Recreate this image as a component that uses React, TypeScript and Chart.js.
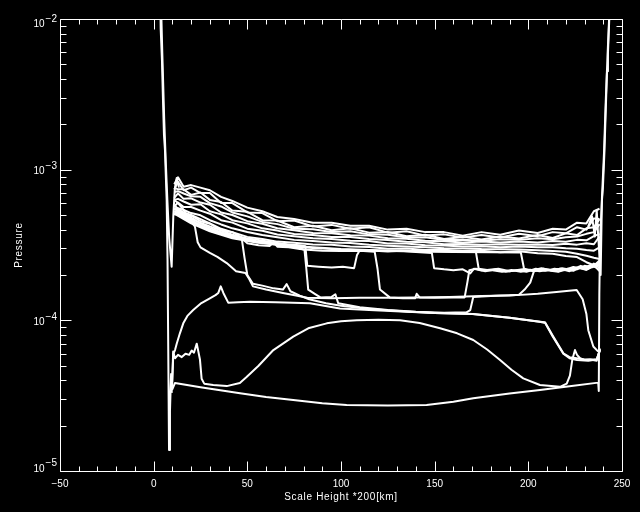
import React, { useEffect, useRef } from "react";
import { Chart, registerables } from "chart.js";

Chart.register(...registerables);

// ---------- axis definitions ----------
const X_MIN = -50;
const X_MAX = 250;
const X_MINOR_STEP = 10;
const X_MAJOR_STEP = 50;
const X_LABELS = [-50, 0, 50, 100, 150, 200, 250];
const Y_MIN = 1e-5;
const Y_MAX = 1e-2;
const Y_DECADES = [-5, -4, -3, -2];
const X_TITLE = "Scale Height *200[km]";
const Y_TITLE = "Pressure";

// ---------- data ----------
// wall + initial (bottom) profile
const profileA: [number, number][] = [
  [3.6, 1.3e-2], [3.74, 8.7e-3], [4.43, 5.3e-3], [4.97, 2.9e-3], [5.5, 1.7e-3], [6.03, 1.35e-3],
  [6.57, 8.5e-4], [6.94, 6.3e-4], [7.4, 2.5e-4], [7.8, 6e-5], [8.2, 1.38e-5], [8.7, 2.5e-5],
  [9.3, 4.4e-5], [10, 3.5e-5], [11.4, 3.84e-5], [25, 3.6e-5], [46.1, 3.28e-5], [60, 3.1e-5],
  [74.5, 2.96e-5], [90, 2.82e-5], [103, 2.74e-5], [125, 2.72e-5], [145.7, 2.74e-5], [160, 2.88e-5],
  [170.6, 3.04e-5], [190, 3.27e-5], [206.2, 3.45e-5], [222, 3.65e-5], [237.3, 3.86e-5], [237.6, 3.4e-5],
  [237.9, 1.5e-4], [238.3, 3.5e-4], [239.3, 6.3e-4], [239.8, 7.55e-4], [240.6, 1.29e-3], [241.5, 2.9e-3],
  [242, 4.5e-3], [242.5, 5.9e-3], [243.2, 1.0e-2], [243.4, 1.3e-2],
];

const profileBell: [number, number][] = [
  [9.8, 3.5e-5], [10.4, 6.2e-5], [11.4, 5.6e-5], [13, 5.9e-5], [15, 5.7e-5], [17, 6.0e-5], [19, 5.9e-5],
  [20.3, 6.3e-5], [21.5, 6.1e-5], [23, 7.0e-5], [24.7, 5.5e-5], [25.6, 4.1e-5], [27, 3.8e-5],
  [31.8, 3.72e-5], [39, 3.66e-5], [46, 3.84e-5], [49.6, 4.2e-5], [56, 5.0e-5], [63.9, 6.35e-5],
  [74.5, 7.8e-5], [83, 8.9e-5], [92.4, 9.55e-5], [100, 9.85e-5], [108.4, 1.0e-4], [120, 1.01e-4],
  [131.5, 1.0e-4], [142, 9.6e-5], [152.9, 8.85e-5], [162, 8.2e-5], [170.6, 7.4e-5], [178, 6.4e-5],
  [184.9, 5.46e-5], [191, 4.7e-5], [197.3, 4.12e-5], [206.2, 3.72e-5], [216.9, 3.62e-5], [220.5, 3.8e-5],
  [222.2, 4.3e-5], [223.5, 5.5e-5], [224.9, 6.35e-5], [226, 5.9e-5], [227.6, 5.6e-5], [230, 5.45e-5],
  [233, 5.5e-5], [236.5, 5.4e-5], [238.3, 6.5e-5],
];

const profileHump: [number, number][] = [
  [9.6, 3.3e-5], [10.5, 6.0e-5], [11.4, 6.35e-5], [12.3, 7.0e-5], [14, 8.2e-5], [15.8, 9.55e-5],
  [18, 1.07e-4], [21.1, 1.17e-4], [25, 1.29e-4], [30, 1.4e-4], [33, 1.47e-4], [34.5, 1.52e-4],
  [35.8, 1.68e-4], [37.2, 1.52e-4], [39.8, 1.31e-4], [45, 1.32e-4], [51.4, 1.33e-4], [65, 1.32e-4],
  [83.4, 1.3e-4], [99.4, 1.2e-4], [115, 1.17e-4], [135, 1.14e-4], [150, 1.12e-4], [170.6, 1.1e-4],
  [190, 1.04e-4], [206.2, 9.8e-5], [208.9, 9.7e-5], [213.3, 7.8e-5], [218.7, 6.04e-5], [222, 5.7e-5],
  [225.8, 5.6e-5], [230, 5.5e-5], [236.5, 5.5e-5], [238.3, 6.35e-5],
];

const leftSpike: [number, number][] = [
  [3.9, 1.3e-2], [4.6, 6e-3], [5.6, 2.2e-3], [6.5, 1.1e-3], [7.3, 6.3e-4], [8.3, 3.5e-4],
  [9.6, 2.27e-4], [10.5, 5e-4], [11.3, 7.5e-4], [12.3, 8.8e-4], [13.5, 7.6e-4],
];

const rightSpike: [number, number][] = [
  [232, 4.2e-4], [234, 4.9e-4], [235.5, 3.6e-4], [236.5, 5.4e-4], [237.5, 3.3e-4], [238.6, 2.0e-4],
  [239.3, 6.5e-4], [240.4, 1.3e-3], [241.3, 2.8e-3], [242.3, 5.8e-3], [243.5, 1.3e-2],
];

// the dense band of profiles
const bundleX = [11, 13, 16, 20, 25, 30, 36, 42, 50, 58, 66, 75, 85, 95, 105, 115, 125, 135, 145, 155, 165, 175, 185, 195, 205, 213, 220, 226, 231, 235, 238];
const band1 = [8.0e-4, 8.9e-4, 7.7e-4, 7.9e-4, 7.6e-4, 7.3e-4, 6.6e-4, 6.2e-4, 5.6e-4, 5.3e-4, 4.85e-4, 4.7e-4, 4.45e-4, 4.45e-4, 4.25e-4, 4.25e-4, 4.0e-4, 4.05e-4, 3.85e-4, 3.85e-4, 3.65e-4, 3.85e-4, 3.7e-4, 3.95e-4, 3.8e-4, 4.05e-4, 4.0e-4, 4.45e-4, 4.4e-4, 5.3e-4, 5.5e-4];
const band2 = [7.4e-4, 8.3e-4, 7.3e-4, 7.6e-4, 7.0e-4, 7.0e-4, 6.0e-4, 6.0e-4, 5.2e-4, 5.15e-4, 4.55e-4, 4.6e-4, 4.2e-4, 4.3e-4, 4.05e-4, 4.15e-4, 3.82e-4, 3.9e-4, 3.65e-4, 3.72e-4, 3.55e-4, 3.68e-4, 3.55e-4, 3.76e-4, 3.62e-4, 3.85e-4, 3.78e-4, 4.15e-4, 4.0e-4, 4.75e-4, 4.7e-4];
const band3 = [7.6e-4, 7.4e-4, 7.4e-4, 6.8e-4, 7.05e-4, 6.3e-4, 6.1e-4, 5.35e-4, 5.25e-4, 4.62e-4, 4.6e-4, 4.15e-4, 4.24e-4, 3.96e-4, 4.08e-4, 3.82e-4, 3.86e-4, 3.62e-4, 3.7e-4, 3.47e-4, 3.58e-4, 3.44e-4, 3.6e-4, 3.49e-4, 3.68e-4, 3.52e-4, 3.78e-4, 3.68e-4, 4.08e-4, 4.15e-4, 4.7e-4];
const band4 = [7.1e-4, 7.2e-4, 6.95e-4, 6.65e-4, 6.6e-4, 6.0e-4, 5.7e-4, 5.2e-4, 4.9e-4, 4.5e-4, 4.35e-4, 4.05e-4, 4.02e-4, 3.86e-4, 3.9e-4, 3.72e-4, 3.7e-4, 3.55e-4, 3.56e-4, 3.41e-4, 3.43e-4, 3.38e-4, 3.45e-4, 3.42e-4, 3.5e-4, 3.45e-4, 3.56e-4, 3.6e-4, 3.75e-4, 3.85e-4, 4.35e-4];
const band5 = [6.5e-4, 6.95e-4, 6.4e-4, 6.45e-4, 6.05e-4, 5.85e-4, 5.2e-4, 5.0e-4, 4.55e-4, 4.38e-4, 4.08e-4, 3.96e-4, 3.8e-4, 3.78e-4, 3.67e-4, 3.65e-4, 3.5e-4, 3.48e-4, 3.38e-4, 3.35e-4, 3.28e-4, 3.33e-4, 3.28e-4, 3.34e-4, 3.29e-4, 3.36e-4, 3.32e-4, 3.42e-4, 3.4e-4, 3.62e-4, 3.75e-4];
const band6 = [6.3e-4, 6.4e-4, 6.15e-4, 5.85e-4, 5.9e-4, 5.3e-4, 5.05e-4, 4.62e-4, 4.4e-4, 4.08e-4, 3.94e-4, 3.74e-4, 3.69e-4, 3.58e-4, 3.57e-4, 3.46e-4, 3.41e-4, 3.32e-4, 3.3e-4, 3.2e-4, 3.21e-4, 3.17e-4, 3.2e-4, 3.18e-4, 3.19e-4, 3.16e-4, 3.22e-4, 3.18e-4, 3.25e-4, 3.2e-4, 3.6e-4];
const band7 = [5.7e-4, 6.05e-4, 5.65e-4, 5.65e-4, 5.35e-4, 5.1e-4, 4.62e-4, 4.45e-4, 4.06e-4, 3.93e-4, 3.71e-4, 3.62e-4, 3.5e-4, 3.47e-4, 3.38e-4, 3.36e-4, 3.24e-4, 3.24e-4, 3.15e-4, 3.14e-4, 3.09e-4, 3.1e-4, 3.06e-4, 3.09e-4, 3.05e-4, 3.05e-4, 3.01e-4, 2.99e-4, 2.93e-4, 2.9e-4, 3.05e-4];
const band8 = [5.4e-4, 5.55e-4, 5.4e-4, 5.15e-4, 4.98e-4, 4.62e-4, 4.33e-4, 4.08e-4, 3.86e-4, 3.68e-4, 3.56e-4, 3.42e-4, 3.36e-4, 3.29e-4, 3.26e-4, 3.18e-4, 3.13e-4, 3.09e-4, 3.06e-4, 3.01e-4, 3.0e-4, 2.97e-4, 2.96e-4, 2.95e-4, 2.92e-4, 2.88e-4, 2.85e-4, 2.77e-4, 2.68e-4, 2.6e-4, 2.55e-4];
const band9 = [5.0e-4, 5.35e-4, 4.9e-4, 4.95e-4, 4.55e-4, 4.38e-4, 3.95e-4, 3.84e-4, 3.58e-4, 3.47e-4, 3.33e-4, 3.27e-4, 3.19e-4, 3.17e-4, 3.09e-4, 3.07e-4, 2.99e-4, 3.0e-4, 2.93e-4, 2.94e-4, 2.89e-4, 2.9e-4, 2.83e-4, 2.87e-4, 2.79e-4, 2.77e-4, 2.67e-4, 2.63e-4, 2.43e-4, 2.32e-4, 2.12e-4];

// profiles with a pressure step (front)
const step1: [number, number][] = [
  [11, 6.3e-4], [13, 6.0e-4], [16, 5.4e-4], [20, 4.5e-4], [22, 4.2e-4], [23.5, 3.3e-4], [25, 3.05e-4],
  [30, 2.8e-4], [34, 2.64e-4], [39, 2.4e-4], [44, 2.12e-4], [49, 2.06e-4], [51, 1.88e-4], [53, 1.68e-4],
  [60, 1.6e-4], [69, 1.52e-4], [76, 1.46e-4], [82, 1.41e-4], [95, 1.4e-4], [110, 1.41e-4], [125, 1.41e-4],
  [140, 1.42e-4], [158, 1.43e-4], [175, 1.45e-4], [190, 1.46e-4], [195, 1.48e-4], [198, 1.6e-4],
  [201, 1.78e-4], [203, 2.12e-4], [206, 2.18e-4], [211, 2.14e-4], [216, 2.1e-4], [220, 2.18e-4],
  [224, 2.13e-4], [228, 2.26e-4], [232, 2.22e-4], [235, 2.38e-4], [238, 2.3e-4],
];
const step2: [number, number][] = [
  [11, 5.8e-4], [16, 5.1e-4], [20, 4.8e-4], [25, 4.4e-4], [30, 4.1e-4], [36, 3.85e-4], [42, 3.65e-4],
  [47, 3.5e-4], [48.5, 2.6e-4], [50, 2.0e-4], [53, 1.75e-4], [58, 1.7e-4], [64, 1.63e-4], [69, 1.6e-4],
  [71, 1.74e-4], [73, 1.56e-4], [78, 1.46e-4], [83, 1.38e-4], [92, 1.3e-4], [100, 1.25e-4], [115, 1.19e-4],
  [135, 1.145e-4], [150, 1.12e-4], [170, 1.1e-4], [190, 1.04e-4], [206, 9.8e-5], [209, 9.6e-5],
  [213, 7.8e-5], [218.7, 6.0e-5], [222, 5.6e-5], [226, 5.45e-5], [232, 5.4e-5], [236.5, 5.5e-5], [238.3, 6.4e-5],
];
const step3: [number, number][] = [
  [11, 5.6e-4], [16, 5.2e-4], [20, 5.0e-4], [25, 4.7e-4], [30, 4.4e-4], [36, 4.05e-4], [42, 3.85e-4],
  [46, 3.6e-4], [50, 3.25e-4], [56, 3.15e-4], [62, 3.12e-4], [64, 3.3e-4], [66, 3.08e-4], [72, 3.05e-4],
  [78, 2.98e-4], [80.5, 2.95e-4], [81.5, 2.2e-4], [82.5, 1.6e-4], [86, 1.5e-4], [89, 1.42e-4], [95, 1.43e-4],
  [97, 1.49e-4], [98.5, 1.3e-4], [110, 1.22e-4], [125, 1.17e-4], [140, 1.14e-4], [155, 1.125e-4],
  [167, 1.13e-4], [169, 1.17e-4], [170.6, 1.43e-4], [175, 1.44e-4], [185, 1.46e-4], [194, 1.47e-4],
  [205, 1.5e-4], [215, 1.54e-4], [225.8, 1.59e-4], [229, 1.38e-4], [231, 1.1e-4], [232, 8.6e-5],
  [234.7, 6.7e-5], [237.3, 6.2e-5],
];
const step4: [number, number][] = [
  [11, 5.5e-4], [20, 4.7e-4], [30, 4.2e-4], [42, 3.7e-4], [50, 3.5e-4], [60, 3.35e-4], [70, 3.2e-4],
  [80, 2.95e-4], [90, 2.9e-4], [100, 2.88e-4], [110, 2.9e-4], [118, 2.85e-4], [119.5, 2.2e-4],
  [120.8, 1.6e-4], [126, 1.42e-4], [133, 1.4e-4], [139.5, 1.4e-4], [140.4, 1.5e-4], [142, 1.42e-4],
  [150, 1.41e-4], [160, 1.42e-4], [166, 1.42e-4], [167.5, 1.8e-4], [168.5, 2.15e-4], [172, 2.2e-4],
  [177, 2.12e-4], [183, 2.18e-4], [188, 2.1e-4], [194, 2.15e-4], [199, 2.1e-4], [204, 2.2e-4],
  [209, 2.13e-4], [214, 2.2e-4], [219, 2.15e-4], [224, 2.26e-4], [229, 2.2e-4], [233, 2.32e-4],
  [236, 2.25e-4], [238, 2.45e-4],
];
const step5: [number, number][] = [
  [11, 5.3e-4], [20, 4.6e-4], [30, 4.0e-4], [42, 3.6e-4], [55, 3.35e-4], [68, 3.22e-4], [78, 3.15e-4],
  [81, 3.1e-4], [82, 2.3e-4], [88, 2.27e-4], [95, 2.24e-4], [101, 2.27e-4], [107, 2.22e-4], [108.5, 2.7e-4],
  [110, 2.92e-4], [118, 2.9e-4], [125, 2.86e-4], [132, 2.9e-4], [140, 2.84e-4], [148.5, 2.8e-4],
  [149.7, 2.22e-4], [155, 2.18e-4], [160, 2.15e-4], [165, 2.18e-4], [169, 2.05e-4], [171, 2.2e-4],
  [175, 2.14e-4], [180, 2.16e-4], [186, 2.1e-4], [191, 2.16e-4], [196, 2.1e-4], [201, 2.17e-4],
  [206, 2.12e-4], [211, 2.17e-4], [216, 2.12e-4], [221, 2.2e-4], [226, 2.18e-4], [230, 2.3e-4],
  [234, 2.25e-4], [238, 2.4e-4],
];
const step6: [number, number][] = [
  [11, 5.2e-4], [20, 4.5e-4], [30, 3.95e-4], [42, 3.55e-4], [55, 3.3e-4], [70, 3.15e-4], [85, 3.05e-4],
  [100, 2.97e-4], [115, 2.93e-4], [130, 2.9e-4], [145, 2.88e-4], [160, 2.86e-4], [172, 2.85e-4],
  [173.5, 2.2e-4], [178, 2.16e-4], [184, 2.2e-4], [190, 2.12e-4], [197, 2.18e-4], [203, 2.12e-4],
  [208, 2.2e-4], [213, 2.14e-4], [218, 2.22e-4], [223, 2.16e-4], [228, 2.3e-4], [232, 2.2e-4],
  [236, 2.35e-4], [238, 2.2e-4],
];
const step7: [number, number][] = [
  [11, 5.1e-4], [20, 4.4e-4], [30, 3.9e-4], [42, 3.5e-4], [55, 3.28e-4], [70, 3.12e-4], [85, 3.02e-4],
  [100, 2.95e-4], [120, 2.9e-4], [140, 2.86e-4], [160, 2.84e-4], [180, 2.83e-4], [196, 2.82e-4],
  [197.7, 2.2e-4], [202, 2.14e-4], [207, 2.22e-4], [212, 2.15e-4], [217, 2.2e-4], [222, 2.12e-4],
  [227, 2.24e-4], [231, 2.16e-4], [235, 2.3e-4], [238, 2.5e-4],
];

const pairSeries = [profileA, profileBell, profileHump, leftSpike, rightSpike, step1, step2, step3, step4, step5, step6, step7];
const bandSeries = [band1, band2, band3, band4, band5, band6, band7, band8, band9];

const FONT = '"Liberation Sans", Arial, sans-serif';

const idlAxes = {
  id: "idlAxes",
  afterDraw(chart: any) {
    const { ctx, chartArea: a, scales } = chart;
    const xs = scales.x;
    const ys = scales.y;
    ctx.save();
    ctx.strokeStyle = "#ffffff";
    ctx.fillStyle = "#ffffff";
    ctx.lineWidth = 1;
    const L = Math.round(a.left) + 0.5;
    const R = Math.round(a.right) + 0.5;
    const T = Math.round(a.top) + 0.5;
    const B = Math.round(a.bottom) + 0.5;
    ctx.beginPath();
    ctx.rect(L, T, R - L, B - T);
    ctx.stroke();

    ctx.beginPath();
    for (let v = X_MIN; v <= X_MAX; v += X_MINOR_STEP) {
      const px = Math.round(xs.getPixelForValue(v)) + 0.5;
      const len = v % X_MAJOR_STEP === 0 ? 10 : 5;
      ctx.moveTo(px, B);
      ctx.lineTo(px, B - len);
      ctx.moveTo(px, T);
      ctx.lineTo(px, T + len);
    }
    for (let n = Y_DECADES[0]; n <= Y_DECADES[Y_DECADES.length - 1]; n++) {
      for (let m = 1; m <= 9; m++) {
        const val = m * Math.pow(10, n);
        if (val > Y_MAX * 1.0001) break;
        const py = Math.round(ys.getPixelForValue(val)) + 0.5;
        const len = m === 1 ? 11 : 6;
        ctx.moveTo(L, py);
        ctx.lineTo(L + len, py);
        ctx.moveTo(R, py);
        ctx.lineTo(R - len, py);
      }
    }
    ctx.stroke();

    ctx.font = `10px ${FONT}`;
    ctx.textAlign = "center";
    ctx.textBaseline = "alphabetic";
    for (const v of X_LABELS) {
      const px = xs.getPixelForValue(v);
      const txt = v < 0 ? "\u2212" + Math.abs(v) : String(v);
      ctx.fillText(txt, px, 487);
    }

    ctx.textAlign = "right";
    for (const n of Y_DECADES) {
      const py = ys.getPixelForValue(Math.pow(10, n));
      const base = Math.min(Math.max(py + 4.8, 27), 471.5);
      const sup = "\u2212" + Math.abs(n);
      ctx.fillText(sup, 57, base - 5.5);
      const w = ctx.measureText(sup).width;
      ctx.fillText("10", 57 - w - 1, base);
    }

    ctx.font = `10px ${FONT}`;
    try { (ctx as any).letterSpacing = "0.7px"; } catch (e) {}
    ctx.textAlign = "center";
    ctx.fillText(X_TITLE, (a.left + a.right) / 2, 499.5);
    ctx.save();
    ctx.translate(19, (a.top + a.bottom) / 2);
    ctx.rotate(-Math.PI / 2);
    ctx.textBaseline = "middle";
    ctx.fillText(Y_TITLE, 0, 0);
    ctx.restore();
    try { (ctx as any).letterSpacing = "0px"; } catch (e) {}
    ctx.restore();
  },
};

export default function App() {
  const ref = useRef<HTMLCanvasElement | null>(null);
  useEffect(() => {
    if (!ref.current) return;
    const datasets: any[] = [];
    for (const s of pairSeries) {
      datasets.push({ data: s.map(([x, y]) => ({ x, y })) });
    }
    for (const b of bandSeries) {
      datasets.push({ data: bundleX.map((x, i) => ({ x, y: b[i] })) });
    }
    for (const d of datasets) {
      d.borderColor = "#ffffff";
      d.borderWidth = 2;
      d.pointRadius = 0;
      d.fill = false;
      d.tension = 0;
      d.borderJoinStyle = "round";
    }
    const chart = new Chart(ref.current, {
      type: "line",
      data: { datasets },
      options: {
        animation: false,
        responsive: false,
        maintainAspectRatio: false,
        layout: { padding: { left: 60, top: 19, right: 18, bottom: 41 } },
        scales: {
          x: { type: "linear", min: X_MIN, max: X_MAX, display: false },
          y: { type: "logarithmic", min: Y_MIN, max: Y_MAX, display: false },
        },
        plugins: { legend: { display: false }, tooltip: { enabled: false } },
      },
      plugins: [idlAxes],
    } as any);
    return () => chart.destroy();
  }, []);
  return (
    <div style={{ position: "fixed", left: 0, top: 0, width: 640, height: 512, background: "#000" }}>
      <canvas ref={ref} width={640} height={512} style={{ display: "block", background: "#000" }} />
    </div>
  );
}
